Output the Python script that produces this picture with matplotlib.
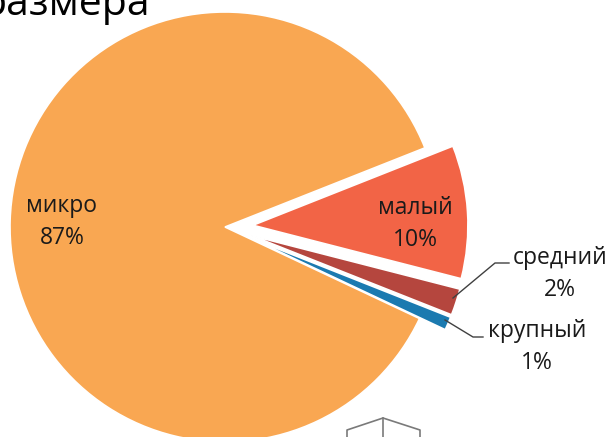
import matplotlib.pyplot as plt

plt.rcParams['font.family'] = ['Open Sans', 'DejaVu Sans']

# доли предприятий по размеру
categories = ['малый', 'средний', 'крупный', 'микро']
shares = [10, 2, 1, 87]
colors = ['#F26446', '#B5463E', '#1B7AB0', '#F9A752']

W, H = 609, 437
fig = plt.figure(figsize=(W / 100, H / 100), dpi=100)
ax = fig.add_axes([0, 0, 1, 1])

cx, cy, r = 225, H - 227, 215
off = 28  # вынос секторов, в пикселях
ax.pie(shares, colors=colors, explode=[off, off, off, 0], startangle=21.6,
       counterclock=False, center=(cx, cy), radius=r,
       wedgeprops=dict(edgecolor='white', linewidth=1.2))
ax.set_xlim(0, W)
ax.set_ylim(0, H)
ax.set_aspect('equal')
ax.axis('off')

def lab(i, x, y):
    ax.text(x, H - y, f'{categories[i]}\n{shares[i]}%', ha='center', va='center',
            fontsize=16.5, color='#1a1a1a', linespacing=1.4)

lab(3, 62, 222)
lab(0, 415, 224)
lab(1, 560, 274)
lab(2, 537, 347)

# выноски
ax.plot([453, 495, 509], [H - 298, H - 263, H - 263], color='#404040', lw=1)
ax.plot([445, 473, 483], [H - 320, H - 337, H - 337], color='#404040', lw=1)

# обрезанный заголовок
ax.text(150, H - 15, 'размера', ha='right', va='baseline', fontsize=29.5, color='black')

# кусок соседнего рисунка внизу
g = '#7a7a7a'
ax.plot([347, 347, 383, 420, 420], [0, H - 430, H - 418, H - 430, 0], color=g, lw=1.2)
ax.plot([383, 383], [H - 418, 0], color=g, lw=1.2)

fig.savefig('out.png', dpi=100)
